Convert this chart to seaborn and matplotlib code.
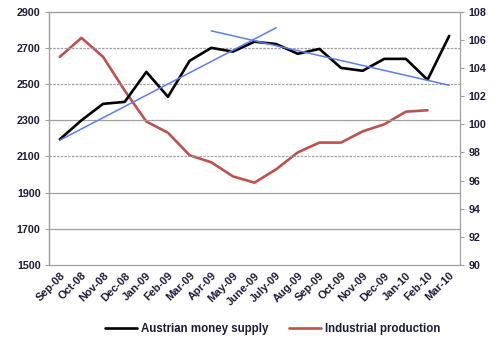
import numpy as np
import pandas as pd
import matplotlib
matplotlib.use("Agg")
import matplotlib.pyplot as plt
import seaborn as sns

months = ["Sep-08", "Oct-08", "Nov-08", "Dec-08", "Jan-09", "Feb-09", "Mar-09",
          "Apr-09", "May-09", "June-09", "July-09", "Aug-09", "Sep-09", "Oct-09",
          "Nov-09", "Dec-09", "Jan-10", "Feb-10", "Mar-10"]
money_supply = [2195, 2300, 2391, 2402, 2568, 2430, 2629, 2701, 2680, 2735,
                2722, 2668, 2695, 2590, 2574, 2640, 2640, 2524, 2767]
industrial = [104.8, 106.15, 104.8, 102.4, 100.2, 99.4, 97.8, 97.3, 96.3, 95.85,
              96.8, 98.0, 98.7, 98.7, 99.5, 100.0, 100.9, 101.0, np.nan]
trend_up_months = ["Sep-08", "July-09"]
trend_up_values = [2190, 2812]
trend_down_months = ["Apr-09", "Mar-10"]
trend_down_values = [2795, 2494]
left_ticks = [1500, 1700, 1900, 2100, 2300, 2500, 2700, 2900]
right_ticks = [90, 92, 94, 96, 98, 100, 102, 104, 106, 108]

sns.set_style("white")
plt.rcParams['font.family'] = ['Liberation Sans', 'DejaVu Sans']

df = pd.DataFrame({"pos": np.arange(len(months)), "month": months,
                   "money": money_supply, "ind": industrial})

fig = plt.figure(figsize=(5.0, 3.49), dpi=100)
ax = fig.add_axes([0.098, 0.241, 0.822, 0.725])
ax2 = ax.twinx()

label_color = "#1c1c38"
grid_gray = "#a0a0a0"

sns.lineplot(data=df, x="pos", y="money", ax=ax, color="black", linewidth=1.9,
             label="Austrian money supply", legend=False)
sns.lineplot(data=df.dropna(), x="pos", y="ind", ax=ax2, color="#c0504d",
             linewidth=1.9, label="Industrial production", legend=False)

tu = pd.DataFrame({"pos": [months.index(m) for m in trend_up_months], "v": trend_up_values})
td = pd.DataFrame({"pos": [months.index(m) for m in trend_down_months], "v": trend_down_values})
sns.lineplot(data=tu, x="pos", y="v", ax=ax, color="#5b7ff0", linewidth=1.1, legend=False)
sns.lineplot(data=td, x="pos", y="v", ax=ax, color="#5b7ff0", linewidth=1.1, legend=False)

ax.set_zorder(ax2.get_zorder() + 1)
ax.patch.set_visible(False)

ax.set_xlim(-0.5, len(months) - 0.5)
ax.set_ylim(1500, 2900)
ax2.set_ylim(90, 108)
ax.set_yticks(left_ticks)
ax2.set_yticks(right_ticks)
ax.set_xticks(np.arange(len(months)))
ax.set_xticks(np.arange(len(months) + 1) - 0.5, minor=True)
ax.set_xticklabels(months, rotation=45, ha="right", rotation_mode="anchor",
                   fontsize=7.9, fontweight="bold", color=label_color)
ax.tick_params(axis="x", which="major", length=0, pad=4)
ax.tick_params(axis="x", which="minor", length=3, color=grid_gray, width=0.8)
ax.tick_params(axis="y", length=3, color=grid_gray, width=0.8, labelsize=7.7,
               labelcolor=label_color, pad=3)
ax2.tick_params(axis="y", length=3, color=grid_gray, width=0.8, labelsize=7.7,
                labelcolor=label_color, pad=3)
for t in ax.get_yticklabels() + ax2.get_yticklabels():
    t.set_fontweight("bold")
ax.set_xlabel("")
ax.set_ylabel("")
ax2.set_ylabel("")

ax.yaxis.grid(True, color=grid_gray, linewidth=0.9)
for val, gl in zip(left_ticks, ax.get_ygridlines()):
    if val in (2100, 2500, 2700):
        gl.set_linestyle((0, (2, 1)))
    if val in (1500, 2900):
        gl.set_visible(False)

for sp in [ax2.spines["left"], ax2.spines["top"], ax2.spines["bottom"], ax2.spines["right"]]:
    sp.set_visible(False)
ax.spines["left"].set_color(grid_gray)
ax.spines["left"].set_linewidth(1.0)
ax.spines["top"].set_color(grid_gray)
ax.spines["top"].set_linewidth(1.0)
ax.spines["right"].set_color(grid_gray)
ax.spines["right"].set_linestyle((0, (2, 1)))
ax.spines["right"].set_linewidth(0.9)
ax.spines["bottom"].set_color(grid_gray)
ax.spines["bottom"].set_linestyle((0, (2, 1)))
ax.spines["bottom"].set_linewidth(0.9)

h1, l1 = ax.get_legend_handles_labels()
h2, l2 = ax2.get_legend_handles_labels()
leg = fig.legend(h1[:1] + h2[:1], ["Austrian money supply", "Industrial production"],
                 loc="center", bbox_to_anchor=(0.545, 0.057), ncol=2, frameon=False,
                 handlelength=2.8, columnspacing=1.8, handletextpad=0.3,
                 prop={"size": 8.3, "weight": "bold"})
for t in leg.get_texts():
    t.set_color(label_color)

fig.savefig("out.png", dpi=100)
